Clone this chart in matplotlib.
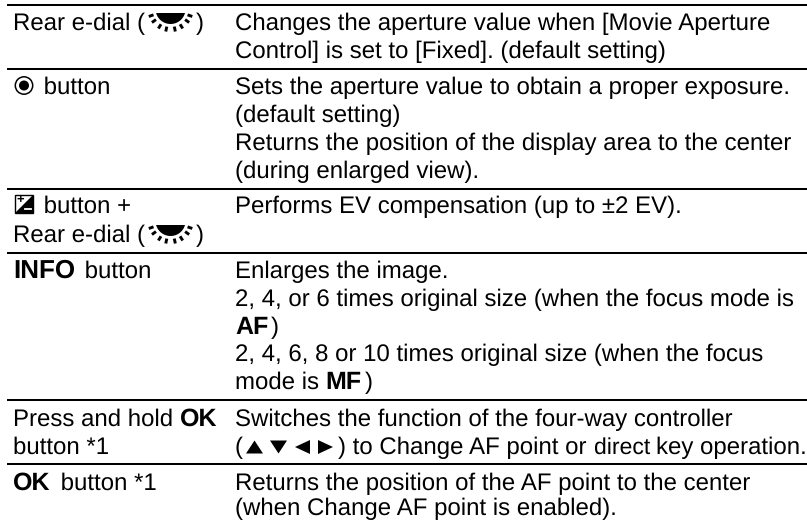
import math
import matplotlib
matplotlib.use("Agg")
import matplotlib.pyplot as plt
from matplotlib.patches import Circle, Rectangle, Polygon

W, H = 807, 520
FS = 17.2
FS_S = 16.88
FS_B = 18.2
FS_INFO = 18.7

# Each line: baseline y, list of runs (text, style). Styles: r regular, s slightly narrow, b bold, plus icons.
rule_y = [5, 69, 189, 253, 400, 464]
col_x = [13, 235]

left_lines = [
    (30, [("Rear e-dial (", "r"), ("dial", "i"), (")", "r")]),
    (94, [("target", "i"), (" button", "r")]),
    (213, [("ev", "i"), (" button +", "r")]),
    (242, [("Rear e-dial (", "r"), ("dial", "i"), (")", "r")]),
    (278, [("INFO", "b2"), (" button", "r")]),
    (426, [("Press and hold ", "r"), ("OK", "b")]),
    (454, [("button *1", "r")]),
    (490, [("OK", "b"), (" button *1", "r")]),
]
right_lines = [
    (30, [("Changes the aperture value when [Movie Aperture", "r")]),
    (58, [("Control] is set to [Fixed]. (default setting)", "r")]),
    (94, [("Sets the aperture value to obtain a proper exposure.", "r")]),
    (122, [("(default setting)", "r")]),
    (150, [("Returns the position of the display area to the center", "r")]),
    (178, [("(during enlarged view).", "r")]),
    (213, [("Performs EV compensation (up to \u00b12 EV).", "r")]),
    (278, [("Enlarges the image.", "r")]),
    (306, [("2, 4, or 6 times original size (when the focus mode is", "r")]),
    (334, [("AF", "b"), (")", "r")]),
    (361, [("2, 4, 6, 8 or 10 times original size (when the focus", "r")]),
    (389, [("mode is ", "r"), ("MF", "b"), (")", "r")]),
    (426, [("Switches the function of the four-way controller", "r")]),
    (454, [("(", "r"), ("tri", "i"), (") to Change AF point or ", "r"), ("direct ", "s"), ("key operation.", "r")]),
    (490, [("Returns the position of the AF point to the center", "r")]),
    (515, [("(when Change AF point is enabled).", "r")]),
]
dial_angles = [19, 36, 58, 78, 102, 122, 144, 161]

plt.rcParams["text.hinting"] = "no_hinting"
plt.rcParams["text.hinting_factor"] = 1

fig = plt.figure(figsize=(W / 100, H / 100), dpi=100)
ax = fig.add_axes([0, 0, 1, 1])
ax.set_xlim(0, W)
ax.set_ylim(H, 0)
ax.axis("off")
renderer = fig.canvas.get_renderer()


def dial(x, base):
    cx, cy = x + 25.5, base - 21
    top = cy + 4
    pts = []
    for a in range(0, 181, 6):
        r = math.radians(a)
        px, py = cx + 15 * math.cos(r), cy + 15 * math.sin(r)
        if py >= top:
            pts.append((px, py))
    half = math.sqrt(15 ** 2 - 4 ** 2)
    pts = [(cx + half, top)] + pts + [(cx - half, top)]
    ax.add_patch(Polygon(pts, fc="black", ec="none"))
    for a in dial_angles:
        r = math.radians(a)
        ax.plot([cx + 18 * math.cos(r), cx + 23 * math.cos(r)],
                [cy + 18 * math.sin(r), cy + 23 * math.sin(r)],
                color="black", lw=2.1, solid_capstyle="butt")
    return 51


def target(x, base):
    cx, cy = x + 11, base - 8.5
    ax.add_patch(Circle((cx, cy), 8.7, fc="none", ec="black", lw=1.1))
    ax.add_patch(Circle((cx, cy), 5, fc="black", ec="none"))
    return 23.7


def ev(x, base):
    l, t = x + 2, base - 18
    s = 18
    ax.add_patch(Rectangle((l, t), s, s, fc="white", ec="black", lw=1))
    ax.add_patch(Polygon([(l + s, t), (l + s, t + s), (l, t + s)], fc="black", ec="none"))
    ax.text(l + 5, t + 5, "+", fontsize=9, fontweight="bold", family="Liberation Sans",
            ha="center", va="center", color="black")
    ax.plot([l + s - 8, l + s - 2], [t + s - 4] * 2, color="white", lw=1.3)
    return 23.7


def tri(x, base):
    cy = base - 7
    for dx, kind in [(11.5, "u"), (35.5, "d"), (59.5, "l"), (82.5, "r")]:
        xs = x + dx
        if kind == "u":
            p = [(xs, cy - 6.5), (xs - 8.5, cy + 6.5), (xs + 8.5, cy + 6.5)]
        elif kind == "d":
            p = [(xs, cy + 6.5), (xs - 8.5, cy - 6.5), (xs + 8.5, cy - 6.5)]
        elif kind == "l":
            p = [(xs - 7.5, cy), (xs + 7.5, cy - 7), (xs + 7.5, cy + 7)]
        else:
            p = [(xs + 7.5, cy), (xs - 7.5, cy - 7), (xs - 7.5, cy + 7)]
        ax.add_patch(Polygon(p, fc="black", ec="none"))
    return 95.5


ICONS = {"dial": dial, "target": target, "ev": ev, "tri": tri}
SIZES = {"r": FS, "s": FS_S, "b": FS_B, "b2": FS_INFO}


def draw_line(x, base, runs):
    for txt, style in runs:
        if style == "i":
            x += ICONS[txt](x, base)
            continue
        bold = style.startswith("b")
        t = ax.text(x, base, txt, fontsize=SIZES[style], family="Liberation Sans",
                    fontweight="bold" if bold else "normal",
                    ha="left", va="baseline", color="black")
        tw, _, _ = renderer.get_text_width_height_descent(txt, t.get_fontproperties(), False)
        x += tw + (3 if bold else 0)


for y in rule_y:
    ax.plot([7, W], [y, y], color="black", lw=1.45, solid_capstyle="butt")
for base, runs in left_lines:
    draw_line(col_x[0], base, runs)
for base, runs in right_lines:
    draw_line(col_x[1], base, runs)

fig.savefig("out.png", dpi=100)
